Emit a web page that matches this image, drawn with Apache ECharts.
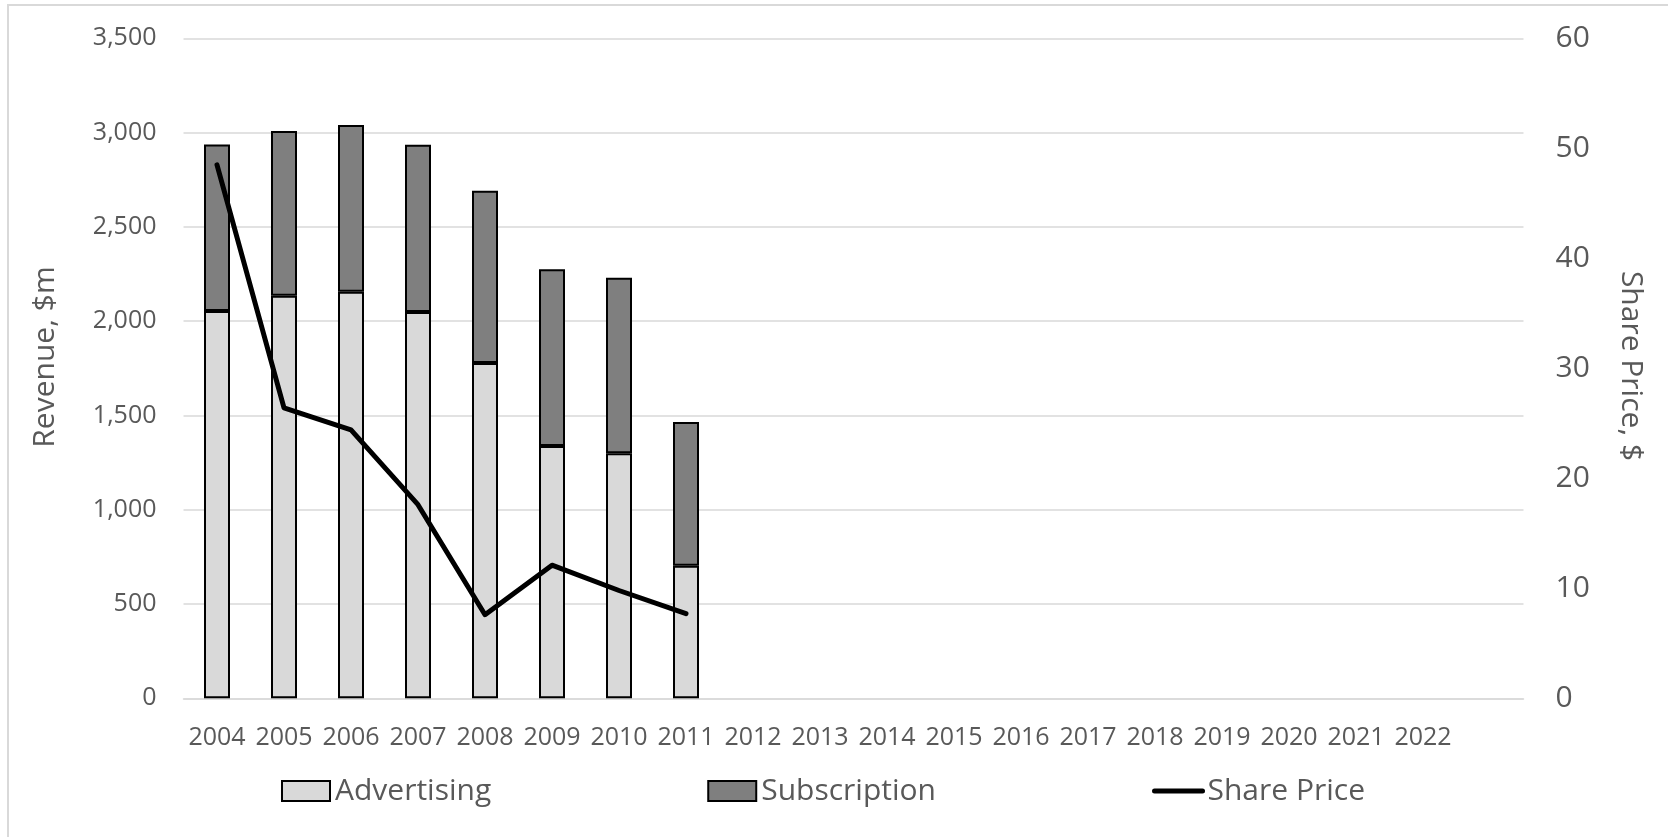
<!DOCTYPE html>
<html>
<head>
<meta charset="utf-8">
<script src="https://cdn.jsdelivr.net/npm/echarts@6/dist/echarts.min.js"></script>
<style>
  html, body { margin: 0; padding: 0; background: #ffffff; }
  #chart { width: 1668px; height: 837px; }
</style>
</head>
<body>
<div id="chart"></div>
<script>
// Years on the category axis (the trailing blank slot keeps the plot width of the original sheet)
const years = ['2004', '2005', '2006', '2007', '2008', '2009', '2010', '2011', '2012', '2013',
  '2014', '2015', '2016', '2017', '2018', '2019', '2020', '2021', '2022', ''];

// Revenue split, $m
const advertising = [2054, 2135, 2156, 2049, 1778, 1338, 1299, 703];
const subscription = [883, 873, 884, 887, 914, 937, 931, 762];

// Year-end share price, $
const sharePrice = [48.5, 26.4, 24.4, 17.6, 7.6, 12.1, 9.8, 7.7];

// Axis ranges
const revenueTicks = { min: 0, max: 3500, interval: 500 };
const priceTicks = { min: 0, max: 60, interval: 10 };

const FONT = '"Open Sans", "Noto Sans", "DejaVu Sans", sans-serif';
const TEXT = '#595959';
const GRID = '#d9d9d9';

const chart = echarts.init(document.getElementById('chart'), null, { renderer: 'canvas' });

chart.setOption({
  animation: false,
  backgroundColor: '#ffffff',
  textStyle: { fontFamily: FONT },
  grid: { left: 183.5, right: 144.5, top: 38.3, bottom: 138.7 },
  legend: {
    left: 281,
    top: 776,
    padding: 0,
    itemWidth: 48,
    itemHeight: 20,
    itemGap: 216,
    textStyle: { fontFamily: FONT, fontSize: 30, color: TEXT },
    data: [
      { name: 'Advertising', icon: 'rect' },
      { name: 'Subscription', icon: 'rect' },
      {
        name: 'Share Price',
        itemStyle: { opacity: 0 },
        lineStyle: { width: 5, cap: 'round', color: '#000000', opacity: 1 }
      }
    ]
  },
  xAxis: {
    type: 'category',
    data: years,
    axisLine: { lineStyle: { color: GRID, width: 1.5 } },
    axisTick: { show: false },
    axisLabel: { fontFamily: FONT, fontSize: 25, color: TEXT, margin: 27, interval: 0 }
  },
  yAxis: [
    {
      type: 'value',
      min: revenueTicks.min,
      max: revenueTicks.max,
      interval: revenueTicks.interval,
      axisLine: { show: false },
      axisTick: { show: false },
      splitLine: { lineStyle: { color: GRID, width: 1.5 } },
      axisLabel: {
        fontFamily: FONT, fontSize: 25, color: TEXT, margin: 27,
        formatter: v => v.toLocaleString('en-US')
      }
    },
    {
      type: 'value',
      position: 'right',
      min: priceTicks.min,
      max: priceTicks.max,
      interval: priceTicks.interval,
      axisLine: { show: false },
      axisTick: { show: false },
      splitLine: { show: false },
      axisLabel: { fontFamily: FONT, fontSize: 30, color: TEXT, margin: 32 }
    }
  ],
  graphic: [
    {
      type: 'rect',
      silent: true,
      shape: { x: 8, y: 5, width: 1700, height: 900 },
      style: { fill: 'none', stroke: GRID, lineWidth: 2 }
    },
    {
      type: 'text',
      x: 45, y: 357,
      rotation: Math.PI / 2,
      style: {
        text: 'Revenue, $m', fontFamily: FONT, fontSize: 30, fill: TEXT,
        align: 'center', verticalAlign: 'middle'
      }
    },
    {
      type: 'text',
      x: 1631, y: 366,
      rotation: -Math.PI / 2,
      style: {
        text: 'Share Price, $', fontFamily: FONT, fontSize: 30, fill: TEXT,
        align: 'center', verticalAlign: 'middle'
      }
    }
  ],
  series: [
    {
      name: 'Advertising',
      type: 'bar',
      stack: 'revenue',
      barWidth: 26,
      data: advertising,
      itemStyle: { color: '#d9d9d9', borderColor: '#000000', borderWidth: 2 }
    },
    {
      name: 'Subscription',
      type: 'bar',
      stack: 'revenue',
      barWidth: 26,
      data: subscription,
      itemStyle: { color: '#7f7f7f', borderColor: '#000000', borderWidth: 2 }
    },
    {
      name: 'Share Price',
      type: 'line',
      yAxisIndex: 1,
      data: sharePrice,
      symbol: 'none',
      itemStyle: { color: '#000000' },
      lineStyle: { color: '#000000', width: 5, cap: 'round', join: 'round' },
      z: 5
    }
  ]
});
</script>
</body>
</html>
